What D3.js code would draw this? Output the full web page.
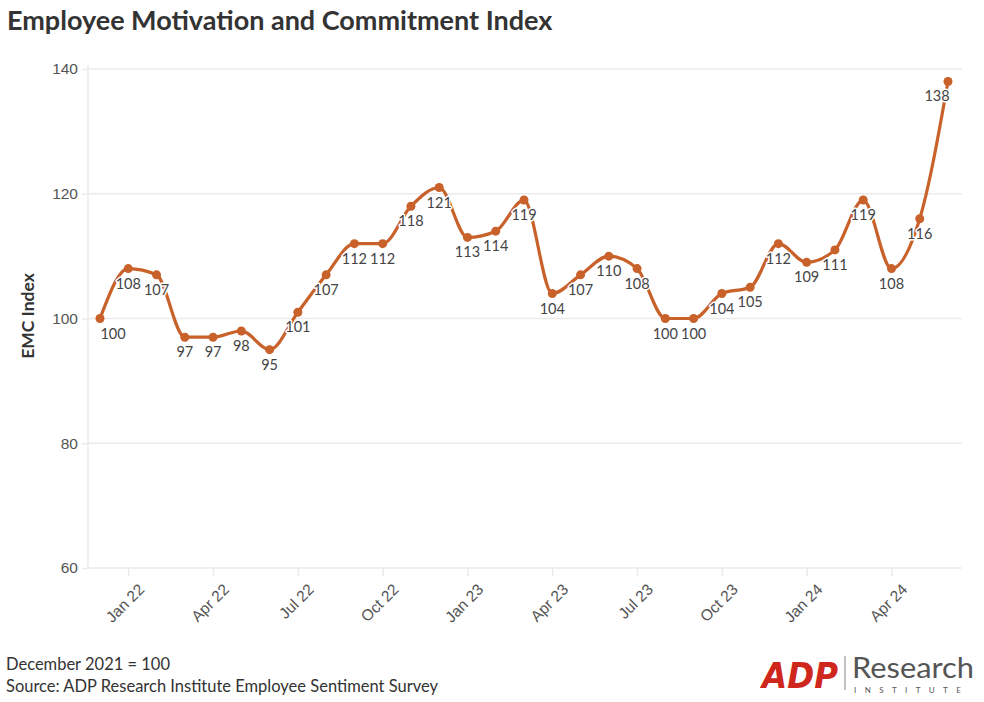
<!DOCTYPE html>
<html><head><meta charset="utf-8">
<script src="https://cdn.jsdelivr.net/npm/d3@7"></script>
<style>
body{margin:0;background:#fff;}
svg{font-family:"Source Sans Pro","Lato","Noto Sans",sans-serif;}
</style></head>
<body><svg id="c" width="984" height="702"></svg>
<script>
const months = ["2021-12","2022-01","2022-02","2022-03","2022-04","2022-05","2022-06","2022-07","2022-08","2022-09","2022-10","2022-11","2022-12","2023-01","2023-02","2023-03","2023-04","2023-05","2023-06","2023-07","2023-08","2023-09","2023-10","2023-11","2023-12","2024-01","2024-02","2024-03","2024-04","2024-05","2024-06"];
const values = [100,108,107,97,97,98,95,101,107,112,112,118,121,113,114,119,104,107,110,108,100,100,104,105,112,109,111,119,108,116,138];
const xTicks = ["2022-01","2022-04","2022-07","2022-10","2023-01","2023-04","2023-07","2023-10","2024-01","2024-04"];
const xTickLabels = ["Jan 22","Apr 22","Jul 22","Oct 22","Jan 23","Apr 23","Jul 23","Oct 23","Jan 24","Apr 24"];
const yTicks = [60,80,100,120,140];

const svg = d3.select("#c");
const L=88, R=962, T=69, B=568;
const x = d3.scalePoint().domain(months).range([100,948]);
const y = d3.scaleLinear().domain([60,140]).range([B,T]);

// title
svg.append("text").attr("x",7).attr("y",30).attr("font-size",27).attr("font-weight",700)
  .attr("fill","#333").text("Employee Motivation and Commitment Index");

// grid
svg.append("g").selectAll("line").data(yTicks.filter(d=>d>60)).join("line")
  .attr("x1",L).attr("x2",R).attr("y1",d=>y(d)).attr("y2",d=>y(d))
  .attr("stroke","#ebebeb").attr("stroke-width",1.5);

// y axis
const ya = svg.append("g").attr("transform",`translate(${L},0)`)
  .call(d3.axisLeft(y).tickValues(yTicks).tickSize(6).tickPadding(4));
ya.select(".domain").attr("stroke","#ebebeb").attr("stroke-width",1.5).attr("d",`M0,${T-4}V${B}`);
ya.selectAll(".tick line").attr("stroke","#ebebeb").attr("stroke-width",1.5);
ya.selectAll(".tick text").attr("font-size",15.5).attr("fill","#555").attr("font-family","inherit");

// x axis
const xa = svg.append("g").attr("transform",`translate(0,${B})`)
  .call(d3.axisBottom(x).tickValues(xTicks).tickFormat((d,i)=>xTickLabels[i]).tickSize(8).tickPadding(4));
xa.select(".domain").attr("stroke","#ebebeb").attr("stroke-width",1.5).attr("d",`M${L},0H${R}`);
xa.selectAll(".tick line").attr("stroke","#ebebeb").attr("stroke-width",1.5);
xa.selectAll(".tick text").attr("font-size",15.5).attr("fill","#555").attr("font-family","inherit")
  .attr("text-anchor","end").attr("dy",0).attr("transform","translate(8,14) rotate(-45)");

// y label
svg.append("text").attr("transform","translate(34,316) rotate(-90)").attr("text-anchor","middle")
  .attr("font-size",17.5).attr("font-weight",700).attr("fill","#333").text("EMC Index");

// line
const data = months.map((m,i)=>({m,v:values[i]}));
const line = d3.line().x(d=>x(d.m)).y(d=>y(d.v)).curve(d3.curveMonotoneX);
svg.append("path").datum(data).attr("d",line).attr("fill","none")
  .attr("stroke","#c8612a").attr("stroke-width",3.2).attr("stroke-linejoin","round");
svg.append("g").selectAll("circle").data(data).join("circle")
  .attr("cx",d=>x(d.m)).attr("cy",d=>y(d.v)).attr("r",4.5).attr("fill","#c8612a");

// labels
const dxOf = (d,i)=> i===0 ? 13 : (i===data.length-1 ? -11 : 0);
const lbl = svg.append("g").attr("font-size",14.5).attr("text-anchor","middle");
lbl.selectAll("text.h").data(data).join("text").attr("class","h")
  .attr("x",(d,i)=>x(d.m)+dxOf(d,i)).attr("y",d=>y(d.v)+20).attr("stroke","#fff").attr("stroke-width",3)
  .attr("stroke-linejoin","round").attr("fill","#fff").text(d=>d.v);
lbl.selectAll("text.t").data(data).join("text").attr("class","t")
  .attr("x",(d,i)=>x(d.m)+dxOf(d,i)).attr("y",d=>y(d.v)+20).attr("fill","#444").text(d=>d.v);

// footer
svg.append("text").attr("x",6).attr("y",670).attr("font-size",16.5).attr("fill","#333").text("December 2021 = 100");
svg.append("text").attr("x",6).attr("y",692).attr("font-size",16.5).attr("fill","#333").text("Source: ADP Research Institute Employee Sentiment Survey");

// logo
const lg = svg.append("g");
lg.append("text").attr("x",762).attr("y",688).attr("font-size",36).attr("font-weight",900)
  .attr("font-style","italic").attr("fill","#d0271d").attr("font-family","'DejaVu Sans',sans-serif")
  .attr("textLength",76).attr("lengthAdjust","spacingAndGlyphs").text("ADP");
lg.append("line").attr("x1",845).attr("x2",845).attr("y1",656).attr("y2",690).attr("stroke","#999").attr("stroke-width",1.2);
lg.append("text").attr("x",852).attr("y",678).attr("font-size",28).attr("fill","#555")
  .attr("textLength",122).attr("lengthAdjust","spacingAndGlyphs").text("Research");
lg.append("text").attr("x",854).attr("y",693).attr("font-size",8).attr("fill","#555")
  .attr("letter-spacing","8.4").text("INSTITUTE");
</script></body></html>
